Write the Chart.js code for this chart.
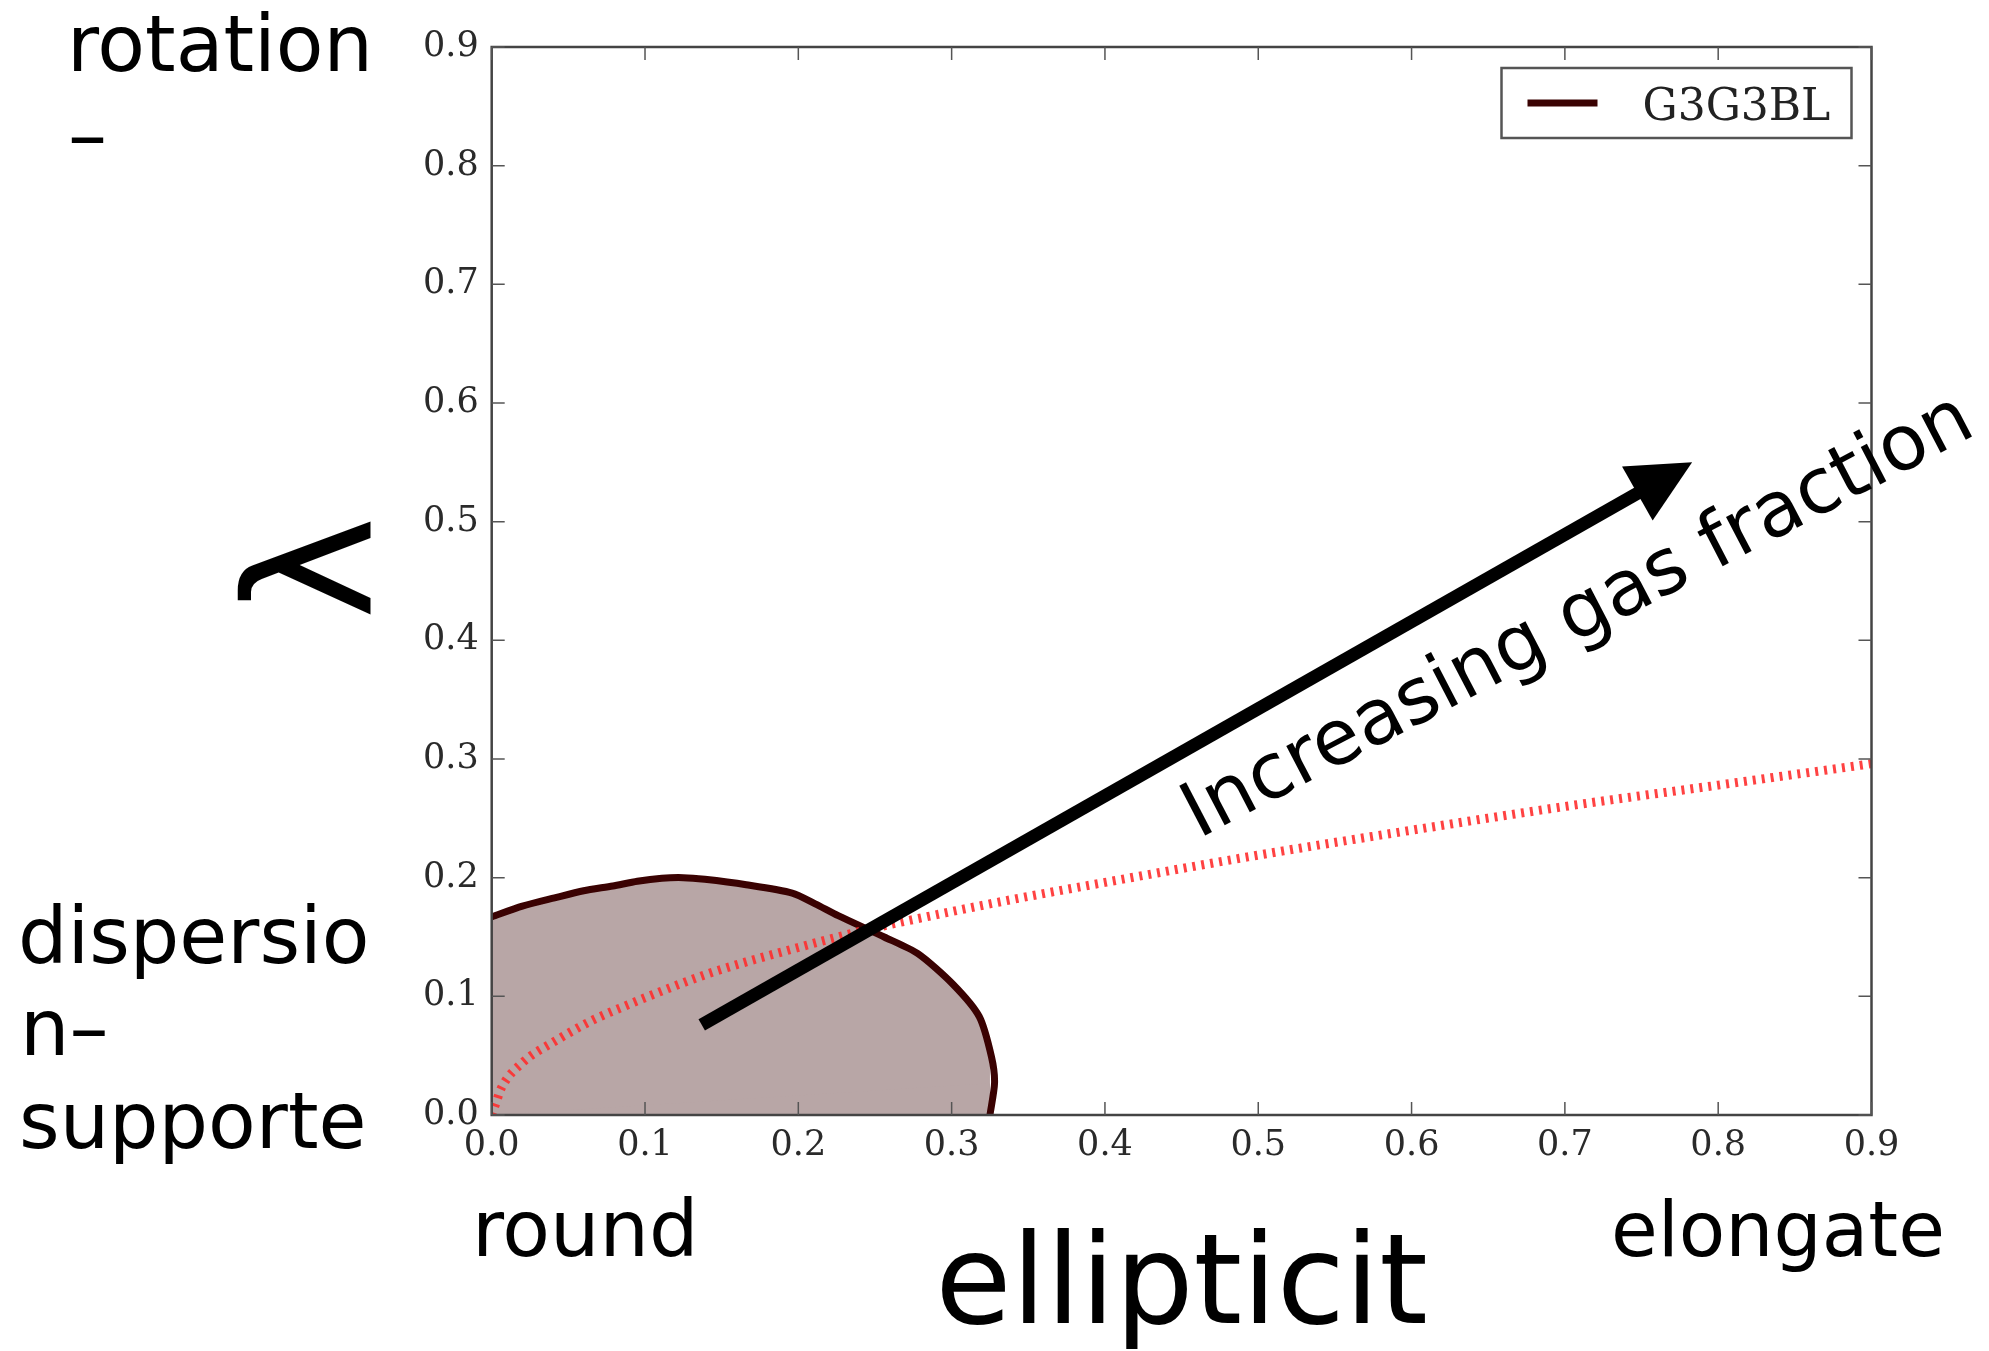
<!DOCTYPE html>
<html>
<head>
<meta charset="utf-8">
<title>lambda vs ellipticity</title>
<script src="https://cdn.jsdelivr.net/npm/chart.js@4/dist/chart.umd.min.js"></script>
<style>
  html, body { margin: 0; padding: 0; background: #fff; }
  canvas { display: block; }
</style>
</head>
<body>
<canvas id="chart" width="1989" height="1351"></canvas>
<script>
// ticks
const xTicks = [0, 0.1, 0.2, 0.3, 0.4, 0.5, 0.6, 0.7, 0.8, 0.9];
const xTickLabels = ['0.0', '0.1', '0.2', '0.3', '0.4', '0.5', '0.6', '0.7', '0.8', '0.9'];
const yTicks = [0, 0.1, 0.2, 0.3, 0.4, 0.5, 0.6, 0.7, 0.8, 0.9];
const yTickLabels = ['0.0', '0.1', '0.2', '0.3', '0.4', '0.5', '0.6', '0.7', '0.8', '0.9'];

// G3G3BL contour (ellipticity, lambda)
const contourEps = [0, 0.02, 0.041, 0.06, 0.079, 0.095, 0.111, 0.125, 0.139, 0.166, 0.196, 0.211, 0.226, 0.256, 0.278, 0.301, 0.318, 0.326, 0.328, 0.325];
const contourLam = [0.167, 0.176, 0.183, 0.189, 0.193, 0.197, 0.1995, 0.2, 0.1986, 0.194, 0.187, 0.178, 0.168, 0.15, 0.136, 0.11, 0.083, 0.049, 0.027, 0];

// red dotted line
const lineEps = [0, 0.003, 0.006, 0.02, 0.041, 0.066, 0.091, 0.116, 0.141, 0.166, 0.191, 0.241, 0.291, 0.341, 0.4, 0.5, 0.6, 0.7, 0.8, 0.9];
const lineLam = [0, 0.011, 0.022, 0.044, 0.062, 0.08, 0.094, 0.107, 0.119, 0.129, 0.138, 0.155, 0.169, 0.182, 0.196, 0.219, 0.24, 0.26, 0.278, 0.296];

// arrow: tail and tip
const arrowEps = [0.137, 0.783];
const arrowLam = [0.076, 0.550];

const noteText = 'Increasing gas fraction';
const noteEps = 0.461;
const noteLam = 0.2325;

const yTitle = '\u03bb';
const sideLabels = [
    { text: 'rotation', x: 67, y: 71, size: 78 },
    { text: '\u2013', x: 68, y: 162, size: 78 },
    { text: 'dispersio', x: 18, y: 963, size: 78 },
    { text: 'n\u2013', x: 20, y: 1055, size: 78 },
    { text: 'supporte', x: 19, y: 1148, size: 78 },
    { text: 'round', x: 472, y: 1256, size: 78 },
    { text: 'elongate', x: 1611, y: 1256, size: 76 },
];

const pts = (xs, ys) => xs.map((v, i) => ({ x: v, y: ys[i] }));

const decor = {
    id: 'decor',
    afterDatasetsDraw(chart) {
        const { ctx, chartArea: a, scales: { x, y } } = chart;
        ctx.save();

        // matplotlib style frame with inward ticks
        ctx.strokeStyle = '#444';
        ctx.lineWidth = 2.5;
        ctx.strokeRect(a.left, a.top, a.right - a.left, a.bottom - a.top);
        ctx.strokeStyle = '#555';
        ctx.lineWidth = 1.5;
        ctx.beginPath();
        x.ticks.forEach(t => {
            const px = x.getPixelForValue(t.value);
            ctx.moveTo(px, a.bottom); ctx.lineTo(px, a.bottom - 13);
            ctx.moveTo(px, a.top); ctx.lineTo(px, a.top + 13);
        });
        y.ticks.forEach(t => {
            const py = y.getPixelForValue(t.value);
            ctx.moveTo(a.left, py); ctx.lineTo(a.left + 13, py);
            ctx.moveTo(a.right, py); ctx.lineTo(a.right - 13, py);
        });
        ctx.stroke();

        // arrow
        const m = chart.getDatasetMeta(0);
        const p0 = m.data[0], p1 = m.data[1];
        const dx = p1.x - p0.x, dy = p1.y - p0.y;
        const len = Math.hypot(dx, dy);
        const ux = dx / len, uy = dy / len;
        const headL = 63, headW = 31;
        const bx = p1.x - ux * headL, by = p1.y - uy * headL;
        ctx.strokeStyle = '#000';
        ctx.lineWidth = 13;
        ctx.lineCap = 'butt';
        ctx.beginPath();
        ctx.moveTo(p0.x, p0.y);
        ctx.lineTo(bx + ux * 3, by + uy * 3);
        ctx.stroke();
        ctx.fillStyle = '#000';
        ctx.beginPath();
        ctx.moveTo(p1.x, p1.y);
        ctx.lineTo(bx - uy * headW, by + ux * headW);
        ctx.lineTo(bx + uy * headW, by - ux * headW);
        ctx.closePath();
        ctx.fill();

        // rotated note
        ctx.save();
        ctx.translate(x.getPixelForValue(noteEps), y.getPixelForValue(noteLam));
        ctx.rotate(-27.5 * Math.PI / 180);
        ctx.font = '77px "DejaVu Sans"';
        ctx.textAlign = 'left';
        ctx.textBaseline = 'alphabetic';
        ctx.fillText(noteText, 0, 0);
        ctx.restore();

        // legend box, top right inside the axes
        const ds = chart.data.datasets[2];
        const lx = a.right - 20 - 350, ly = a.top + 21;
        ctx.fillStyle = '#fff';
        ctx.fillRect(lx, ly, 350, 70);
        ctx.strokeStyle = '#555';
        ctx.lineWidth = 2.5;
        ctx.strokeRect(lx, ly, 350, 70);
        ctx.strokeStyle = ds.borderColor;
        ctx.lineWidth = 7;
        ctx.beginPath();
        ctx.moveTo(lx + 26, ly + 35);
        ctx.lineTo(lx + 96, ly + 35);
        ctx.stroke();
        ctx.fillStyle = '#222';
        ctx.font = '44px "DejaVu Serif"';
        ctx.textBaseline = 'alphabetic';
        ctx.fillText(ds.label, lx + 141, ly + 52);

        ctx.restore();
    },
    afterDraw(chart) {
        const { ctx, chartArea: a } = chart;
        ctx.save();
        ctx.fillStyle = '#000';
        ctx.textAlign = 'left';
        ctx.textBaseline = 'alphabetic';
        sideLabels.forEach(l => {
            ctx.font = l.size + 'px "DejaVu Sans"';
            ctx.fillText(l.text, l.x, l.y);
        });

        // y axis title, rotated, baseline towards the axis
        ctx.save();
        ctx.translate(370, (a.top + a.bottom) / 2 - 13);
        ctx.rotate(-Math.PI / 2);
        ctx.font = '175px "DejaVu Sans"';
        ctx.textAlign = 'center';
        ctx.fillText(yTitle, 0, 0);
        ctx.restore();

        ctx.restore();
    },
};

const tickFont = { family: 'DejaVu Serif', size: 35 };

new Chart(document.getElementById('chart'), {
    type: 'scatter',
    data: {
        datasets: [
            {
                label: 'arrow',
                data: pts(arrowEps, arrowLam),
                showLine: false,
                pointRadius: 0,
                order: 0,
            },
            {
                label: 'fast/slow divide',
                data: pts(lineEps, lineLam),
                showLine: true,
                borderColor: 'rgba(255,45,45,0.9)',
                borderWidth: 9,
                borderDash: [3, 6],
                borderCapStyle: 'butt',
                cubicInterpolationMode: 'monotone',
                pointRadius: 0,
                fill: false,
                order: 1,
            },
            {
                label: 'G3G3BL',
                data: pts(contourEps, contourLam),
                showLine: true,
                borderColor: '#3a0202',
                backgroundColor: '#b8a6a6',
                borderWidth: 7,
                tension: 0.25,
                pointRadius: 0,
                fill: 'origin',
                clip: 0,
                order: 2,
            },
        ],
    },
    options: {
        responsive: false,
        animation: false,
        devicePixelRatio: 1,
        layout: { padding: { left: 0, right: 117.5, top: 47, bottom: 0 } },
        plugins: {
            legend: { display: false },
            tooltip: { enabled: false },
        },
        scales: {
            x: {
                type: 'linear',
                min: 0, max: 0.9,
                afterFit: s => { s.height = 236; },
                afterBuildTicks: s => { s.ticks = xTicks.map(v => ({ value: v })); },
                grid: { display: false, drawTicks: false },
                border: { display: false },
                ticks: {
                    color: '#2a2a2a',
                    font: tickFont,
                    padding: 10,
                    maxRotation: 0,
                    autoSkip: false,
                    callback: (v, i) => xTickLabels[i],
                },
                title: {
                    display: true,
                    text: 'ellipticit',
                    color: '#000',
                    font: { family: 'DejaVu Sans', size: 124, lineHeight: 0.968 },
                    padding: { top: 0, bottom: 0 },
                },
            },
            y: {
                type: 'linear',
                min: 0, max: 0.9,
                afterFit: s => { s.width = 491.7; },
                afterBuildTicks: s => { s.ticks = yTicks.map(v => ({ value: v })); },
                grid: { display: false, drawTicks: false },
                border: { display: false },
                ticks: {
                    color: '#2a2a2a',
                    font: tickFont,
                    padding: 13,
                    autoSkip: false,
                    callback: (v, i) => yTickLabels[i],
                },
            },
        },
    },
    plugins: [decor],
});
</script>
</body>
</html>
